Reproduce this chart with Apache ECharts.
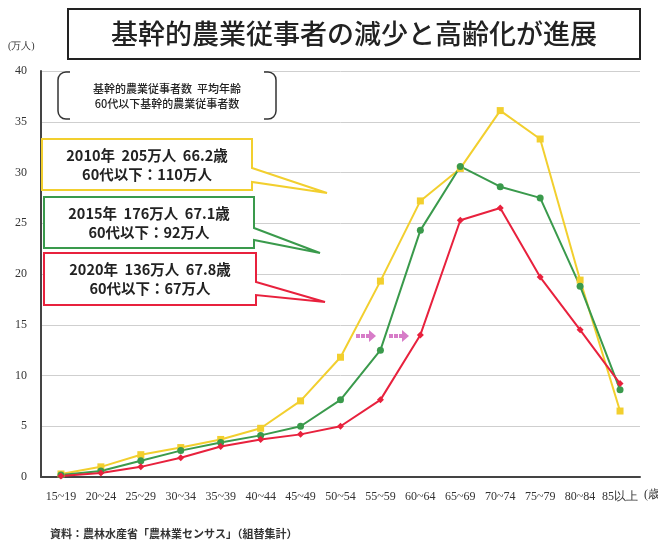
<!DOCTYPE html>
<html><head><meta charset="utf-8">
<script src="https://cdn.jsdelivr.net/npm/echarts@6/dist/echarts.min.js"></script>
<style>html,body{margin:0;padding:0;background:#fff}#c{width:658px;height:543px}</style>
</head><body><div id="c"></div>
<script>
const categories = ['15~19','20~24','25~29','30~34','35~39','40~44','45~49','50~54','55~59','60~64','65~69','70~74','75~79','80~84','85以上'];
const y2010 = [0.3,1.0,2.2,2.9,3.7,4.8,7.5,11.8,19.3,27.2,30.4,36.1,33.3,19.4,6.5];
const y2015 = [0.2,0.6,1.6,2.6,3.4,4.1,5.0,7.6,12.5,24.3,30.6,28.6,27.5,18.8,8.6];
const y2020 = [0.1,0.4,1.0,1.9,3.0,3.7,4.2,5.0,7.6,14.0,25.3,26.5,19.7,14.5,9.2];
const yTicks = [0,5,10,15,20,25,30,35,40];

const cJP = '"Noto Sans CJK JP", sans-serif';
const cSerif = '"Liberation Serif", "DejaVu Serif", serif';
const YEL = '#f2cf2e', GRN = '#3a9a4c', RED = '#e8213d';

function ser(name, data, color, symbol) {
  return { name, type:'line', data, symbol, symbolSize:7,
    lineStyle:{color, width:2}, itemStyle:{color}, z: 3 };
}
function callout(x1,y1,x2,y2,ty1,ty2,tx,tyy,color) {
  return { type:'polygon', shape:{points:[[x1,y1],[x2,y1],[x2,ty1],[tx,tyy],[x2,ty2],[x2,y2],[x1,y2]]},
    style:{fill:'#fff', stroke:color, lineWidth:2}, z:10 };
}
function ctext(x,y,t) {
  return { type:'text', x, y, style:{text:t, font:'bold 14.5px '+cJP, fill:'#222', align:'center', verticalAlign:'middle', lineHeight:19}, z:11 };
}
function arrow(x,y) {
  return { type:'group', z:5, children:[
    { type:'line', shape:{x1:x, y1:y, x2:x+13, y2:y}, style:{stroke:'#d77cc8', lineWidth:4, lineDash:[4,1]} },
    { type:'polygon', shape:{points:[[x+13,y-6],[x+20,y],[x+13,y+6]]}, style:{fill:'#d77cc8'} }
  ]};
}

const chart = echarts.init(document.getElementById('c'));
chart.setOption({
  animation:false,
  backgroundColor:'#fff',
  grid:{left:41, right:18, top:71, bottom:66},
  xAxis:{ type:'category', data:categories, boundaryGap:true,
    axisLine:{lineStyle:{color:'#444', width:2}}, axisTick:{show:false},
    axisLabel:{fontFamily:cSerif, fontSize:12, color:'#333', margin:14, interval:0} },
  yAxis:{ type:'value', min:0, max:40, interval:5,
    axisLine:{show:true, lineStyle:{color:'#444', width:2}}, axisTick:{show:false},
    axisLabel:{fontFamily:cSerif, fontSize:12, color:'#333', margin:14,
      formatter:v=> yTicks.includes(v)? String(v):''},
    splitLine:{lineStyle:{color:'#cfcfcf', width:1}} },
  series:[ ser('2010年', y2010, YEL, 'rect'), ser('2015年', y2015, GRN, 'circle'), ser('2020年', y2020, RED, 'diamond') ],
  graphic:[
    { type:'rect', shape:{x:68, y:9, width:572, height:50}, style:{fill:'#fff', stroke:'#222', lineWidth:2} },
    { type:'text', x:354, y:34, style:{text:'基幹的農業従事者の減少と高齢化が進展', font:'500 27px '+cJP, fill:'#222', align:'center', verticalAlign:'middle'} },
    { type:'text', x:8, y:46, style:{text:'(万人)', font:'10px '+cSerif, fill:'#333', verticalAlign:'middle'} },
    { type:'rect', shape:{x:58, y:72, width:218, height:47, r:8}, style:{fill:'#fff', stroke:'#333', lineWidth:1.5}, z:9 },
    { type:'rect', shape:{x:70, y:70, width:194, height:51}, style:{fill:'#fff'}, z:9 },
    { type:'text', x:167, y:96, style:{text:'基幹的農業従事者数  平均年齢\n60代以下基幹的農業従事者数', font:'500 11px '+cJP, fill:'#222', align:'center', verticalAlign:'middle', lineHeight:15}, z:10 },
    callout(42,139,252,190,168,182,327,193,YEL),
    ctext(147,165,'2010年  205万人  66.2歳\n60代以下：110万人'),
    callout(44,197,254,248,228,240,320,253,GRN),
    ctext(149,223,'2015年  176万人  67.1歳\n60代以下：92万人'),
    callout(44,253,256,305,282,295,325,302,RED),
    ctext(150,279,'2020年  136万人  67.8歳\n60代以下：67万人'),
    arrow(356,336), arrow(389,336),
    { type:'text', x:644, y:495, style:{text:'(歳)', font:'12px '+cSerif, fill:'#333', verticalAlign:'middle'} },
    { type:'text', x:50, y:534, style:{text:'資料：農林水産省「農林業センサス」（組替集計）', font:'bold 11px '+cJP, fill:'#333', verticalAlign:'middle'} }
  ]
});
</script></body></html>
